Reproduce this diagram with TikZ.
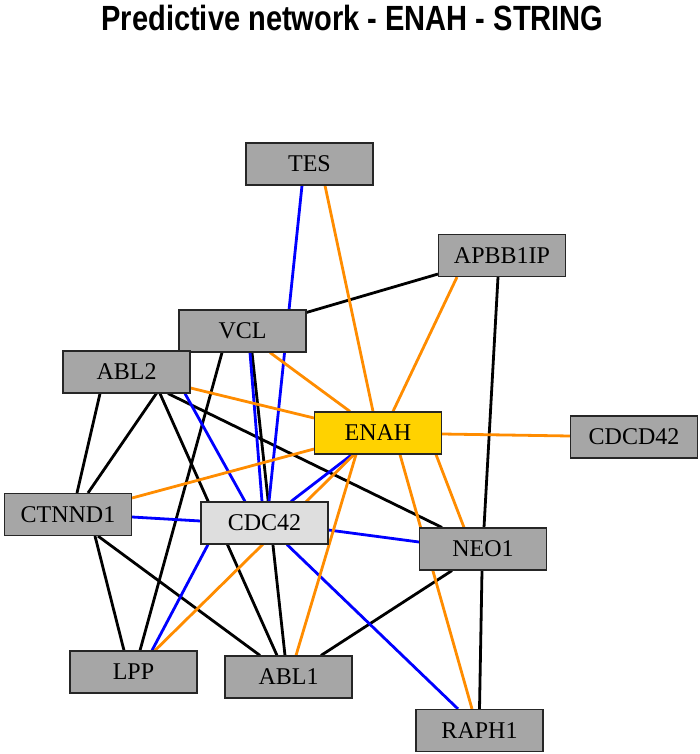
\documentclass[tikz,border=0pt]{standalone}
\usepackage{graphicx}
\usepackage{fontspec}
\setmainfont{Liberation Serif}
\newfontfamily\titlefont{Liberation Sans}
\usetikzlibrary{backgrounds}

\definecolor{genegray}{RGB}{166,166,166}
\definecolor{hubgray}{RGB}{222,222,222}
\definecolor{querygold}{RGB}{255,210,0}
\definecolor{edgeorange}{RGB}{255,140,0}
\definecolor{edgeblue}{RGB}{0,0,255}

\begin{document}
\begin{tikzpicture}[
    x=1pt, y=-1pt,
    every node/.style={font=\fontsize{24}{28}\selectfont},
    gene/.style={draw=black!85, line width=1.1pt, fill=genegray, minimum width=127pt, minimum height=42pt, inner sep=0pt},
    query/.style={gene, fill=querygold},
    hub/.style={gene, fill=hubgray},
    blackline/.style={line width=2.8pt, black},
    blueline/.style={line width=2.8pt, edgeblue},
    orangeline/.style={line width=2.8pt, edgeorange}
]
\useasboundingbox (0,0) rectangle (700,754);

% Titre
\node[anchor=base, font=\titlefont\bfseries\fontsize{35}{40}\selectfont] (title) at (352.5,31) {\scalebox{0.83}[1]{Predictive network - ENAH - STRING}};

% Gènes
\node[gene] (TES) at (309.5,164) {TES};
\node[gene] (APBB1IP) at (502,255.5) {APBB1IP};
\node[gene] (VCL) at (242.5,331) {VCL};
\node[gene] (ABL2) at (126.5,372) {ABL2};
\node[query] (ENAH) at (378,433) {ENAH};
\node[gene] (CDCD42) at (634,437) {CDCD42};
\node[gene] (CTNND1) at (68,514.5) {CTNND1};
\node[hub] (CDC42) at (264.5,523) {CDC42};
\node[gene] (NEO1) at (483,549) {NEO1};
\node[gene] (LPP) at (133.5,672) {LPP};
\node[gene] (ABL1) at (288.5,677) {ABL1};
\node[gene] (RAPH1) at (479.5,730.5) {RAPH1};

\begin{scope}[on background layer]
% Liens noirs
\draw[blackline] ([yshift=3pt]APBB1IP.south west) -- ([yshift=-3pt]VCL.north east);
\draw[blackline] ([xshift=-4pt]APBB1IP.south) -- ([xshift=1pt]NEO1.north);
\draw[blackline] ([xshift=-1pt]NEO1.south) -- (RAPH1.north);
\draw[blackline] ([xshift=-31pt]NEO1.south) -- ([xshift=32.5pt]ABL1.north);
\draw[blackline] ([xshift=41.5pt]ABL2.south) -- ([xshift=-41pt]NEO1.north);
\draw[blackline] ([xshift=-26.5pt]ABL2.south) -- ([xshift=9pt]CTNND1.north);
\draw[blackline] ([xshift=6pt]VCL.south west) -- ([xshift=20pt]CTNND1.north);
\draw[blackline] ([xshift=33.5pt]ABL2.south) -- ([xshift=-11.5pt]ABL1.north);
\draw[blackline] ([xshift=-20.5pt]VCL.south) -- ([xshift=6.5pt]LPP.north);
\draw[blackline] ([xshift=9.5pt]VCL.south) -- ([xshift=-3.5pt]ABL1.north);
\draw[blackline] ([xshift=27pt]CTNND1.south) -- ([xshift=-9.5pt]LPP.north);
\draw[blackline] ([xshift=30pt]CTNND1.south) -- ([xshift=-28.5pt]ABL1.north);

% Liens bleus
\draw[blueline] ([xshift=-7.5pt]TES.south) -- ([xshift=4.5pt]CDC42.north);
\draw[blueline] ([xshift=7.5pt]VCL.south) -- ([xshift=-2.5pt]CDC42.north);
\draw[blueline] ([xshift=58.5pt]ABL2.south) -- ([xshift=-19.5pt]CDC42.north);
\draw[blueline] ([yshift=-2.5pt]CTNND1.east) -- ([yshift=2pt]CDC42.west);
\draw[blueline] ([yshift=-7pt]CDC42.east) -- ([yshift=7pt]NEO1.west);
\draw[blueline] ([xshift=22.5pt]CDC42.south) -- ([xshift=-21.5pt]RAPH1.north);
\draw[blueline] ([xshift=18.5pt]LPP.north) -- ([xshift=-56.5pt]CDC42.south);
\draw[blueline] ([xshift=-26pt]ENAH.south) -- ([xshift=26.5pt]CDC42.north);

% Liens orange
\draw[orangeline] ([xshift=15.5pt]TES.south) -- ([xshift=-5pt]ENAH.north);
\draw[orangeline] ([xshift=-45pt]APBB1IP.south) -- ([xshift=15pt]ENAH.north);
\draw[orangeline] ([xshift=27.5pt]VCL.south) -- ([xshift=-28pt]ENAH.north);
\draw[orangeline] ([yshift=-16pt]ABL2.east) -- ([yshift=15pt]ENAH.west);
\draw[orangeline] ([yshift=-1pt]ENAH.east) -- ([yshift=1pt]CDCD42.west);
\draw[orangeline] ([yshift=16.5pt]CTNND1.east) -- ([yshift=-16pt]ENAH.west);
\draw[orangeline] ([xshift=-24pt]ENAH.south) -- ([xshift=21.5pt]LPP.north);
\draw[orangeline] ([xshift=-22pt]ENAH.south) -- ([xshift=7.5pt]ABL1.north);
\draw[orangeline] ([xshift=58pt]ENAH.south) -- ([xshift=-19pt]NEO1.north);
\draw[orangeline] ([xshift=22pt]ENAH.south) -- ([xshift=-7.5pt]RAPH1.north);
\end{scope}

\end{tikzpicture}
\end{document}
